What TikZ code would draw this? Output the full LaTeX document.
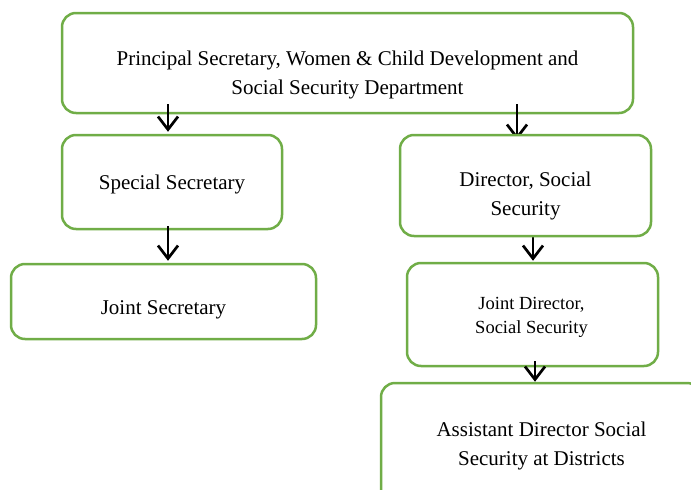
\documentclass[tikz,border=0pt]{standalone}
\usepackage{fontspec}
\setmainfont{Liberation Serif}
\usetikzlibrary{arrows.meta}
\definecolor{boxgreen}{RGB}{112,173,71}
\pgfdeclarelayer{front}
\pgfsetlayers{main,front}
\begin{document}
\begin{tikzpicture}[x=1pt,y=-1pt,
  box/.style={draw=boxgreen,line width=2.5pt,fill=white,rounded corners=14pt,inner sep=0pt},
  txt/.style={align=center,font=\fontsize{21}{29}\selectfont,inner sep=0pt},
  smalltxt/.style={align=center,font=\fontsize{18.5}{24}\selectfont,inner sep=0pt},
  arr/.style={draw=black,line width=2.7pt,-{Straight Barb[length=13pt,width=20pt,line width=2.7pt]}}]
\useasboundingbox (0,0) rectangle (691,490);
\clip (0,0) rectangle (691,490);
% boxes
\node[box,minimum width=571pt,minimum height=100pt] (top) at (347.5,63) {};
\node[txt] (toptxt) at (347.5,75) {Principal Secretary, Women \& Child Development and\\Social Security Department};
\node[box,minimum width=220pt,minimum height=94pt] (spec) at (172,182) {};
\node[txt] (spectxt) at (172,184) {Special Secretary};
\begin{pgfonlayer}{front}
\node[box,minimum width=251pt,minimum height=101pt] (dir) at (525.5,185.5) {};
\node[txt] (dirtxt) at (525.5,196) {Director, Social\\Security};
\end{pgfonlayer}
\node[box,minimum width=305pt,minimum height=75pt] (js) at (163.5,301.5) {};
\node[txt] (jstxt) at (163.5,309.5) {Joint Secretary};
\node[box,minimum width=251pt,minimum height=103pt] (jd) at (532.5,314.5) {};
\node[smalltxt] (jdtxt) at (531.5,317) {Joint Director,\\Social Security};
\node[box,minimum width=320pt,minimum height=120pt] (ad) at (541,443) {};
\node[txt] (adtxt) at (541.5,445.5) {Assistant Director Social\\Security at Districts};
% arrows
\draw[arr] ([xshift=-4pt,yshift=10pt]top.south -| spec.north) -- ([xshift=-4pt,yshift=2pt]spec.north);
\draw[arr] ([xshift=-8.5pt,yshift=10pt]top.south -| dir.north) -- ([xshift=-8.5pt,yshift=-6pt]dir.north);
\draw[arr] ([xshift=-4pt,yshift=4pt]spec.south) -- ([xshift=-4pt,yshift=2pt]spec.south |- js.north);
\draw[arr] ([xshift=0.5pt,yshift=10pt]dir.south -| jd.north) -- ([xshift=0.5pt,yshift=1pt]jd.north);
\draw[arr] ([xshift=-6pt,yshift=6pt]jd.south -| ad.north) -- ([xshift=-6pt]ad.north);
\end{tikzpicture}
\end{document}
